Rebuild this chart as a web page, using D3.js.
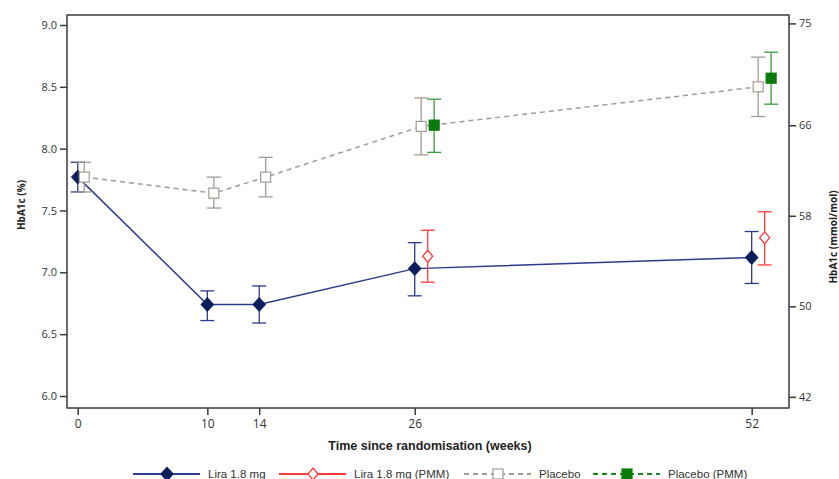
<!DOCTYPE html>
<html>
<head>
<meta charset="utf-8">
<script src="https://cdn.jsdelivr.net/npm/d3@7"></script>
<style>
  body { margin: 0; background: #fff; }
  .tick text { font-family: "Open Sans", "DejaVu Sans", sans-serif; font-size: 11px; fill: #333; }
  .narrow { font-family: "Liberation Sans Narrow", "Arial Narrow", "Liberation Sans", sans-serif; }
</style>
</head>
<body>
<svg id="chart" width="839" height="479"></svg>
<script>
"use strict";

// weeks shown on the x axis
const weekTicks = [0, 10, 14, 26, 52]
const leftTicks = [6.0, 6.5, 7.0, 7.5, 8.0, 8.5, 9.0]
const rightTicks = [42, 50, 58, 66, 75]

// Lira 1.8 mg (observed)
const liraWeeks = [0, 10, 14, 26, 52]
const liraMean = [7.77, 6.74, 6.74, 7.03, 7.12]
const liraLow = [7.65, 6.61, 6.59, 6.81, 6.91]
const liraHigh = [7.89, 6.85, 6.89, 7.24, 7.33]

// Placebo (observed), drawn half a week to the right
const placWeeks = [0.5, 10.5, 14.5, 26.5, 52.5]
const placMean = [7.77, 7.64, 7.77, 8.18, 8.50]
const placLow = [7.65, 7.52, 7.61, 7.95, 8.26]
const placHigh = [7.89, 7.77, 7.93, 8.41, 8.74]

// Lira 1.8 mg (PMM)
const liraPmmWeeks = [27, 53]
const liraPmmMean = [7.13, 7.28]
const liraPmmLow = [6.92, 7.06]
const liraPmmHigh = [7.34, 7.49]

// Placebo (PMM)
const placPmmWeeks = [27.5, 53.5]
const placPmmMean = [8.19, 8.57]
const placPmmLow = [7.97, 8.36]
const placPmmHigh = [8.40, 8.78]

const navy = "#0b1e5b"
const navyLine = "#2c3b8c"
const red = "#ff3b3b"
const grey = "#a39a92"
const green = "#1d8a1d"

const svg = d3.select("#chart")

const x = d3.scaleLinear().domain([-0.83, 54.88]).range([67, 789])
const y = d3.scaleLinear().domain([6.0, 9.0]).range([396, 25])
// IFCC conversion: mmol/mol = 10.929 * % - 23.5
const toMmol = v => 10.929 * v - 23.5
const y2 = d3.scaleLinear().domain([toMmol(6.0), toMmol(9.0)]).range([396, 25])

const frameTop = 15, frameBottom = 408

// frame
svg.append("rect")
    .attr("x", x.range()[0]).attr("y", frameTop)
    .attr("width", x.range()[1] - x.range()[0]).attr("height", frameBottom - frameTop)
    .attr("fill", "none").attr("stroke", "#3a3a3a").attr("stroke-width", 1.5)

function styleAxis(g) {
  g.select(".domain").remove()
  g.selectAll(".tick line").attr("stroke", "#3a3a3a").attr("stroke-width", 1.5)
}

svg.append("g")
    .attr("transform", `translate(${x.range()[0]},0)`)
    .call(d3.axisLeft(y).tickValues(leftTicks).tickFormat(d3.format(".1f")).tickSize(7).tickPadding(3))
    .call(styleAxis)

svg.append("g")
    .attr("transform", `translate(${x.range()[1]},0)`)
    .call(d3.axisRight(y2).tickValues(rightTicks).tickFormat(d3.format("d")).tickSize(7).tickPadding(3))
    .call(styleAxis)

const xAxis = svg.append("g")
    .attr("transform", `translate(0,${frameBottom})`)
    .call(d3.axisBottom(x).tickValues(weekTicks).tickSize(7).tickPadding(4))
    .call(styleAxis)
xAxis.selectAll(".tick text").attr("class", "narrow").style("font-size", "12px").attr("fill", "#333")

// axis titles
svg.append("text")
    .attr("x", 430).attr("y", 450)
    .attr("text-anchor", "middle")
    .attr("class", "narrow")
    .style("font-size", "12.5px").style("font-weight", "bold").attr("fill", "#222")
    .text("Time since randomisation (weeks)")

svg.append("text")
    .attr("transform", "translate(25,205) rotate(-90)")
    .attr("text-anchor", "middle")
    .style("font-family", "'Open Sans', sans-serif")
    .style("font-size", "10px").style("font-weight", "bold").attr("fill", "#222")
    .text("HbA1c (%)")

svg.append("text")
    .attr("transform", "translate(837,237) rotate(-90)")
    .attr("text-anchor", "middle")
    .style("font-family", "'Open Sans', sans-serif")
    .style("font-size", "10px").style("font-weight", "bold").attr("fill", "#222")
    .text("HbA1c (mmol/mol)")

function zip(weeks, mean, low, high) {
  return weeks.map((w, i) => ({w: w, m: mean[i], lo: low[i], hi: high[i]}))
}

const series = [
  {name: "Lira 1.8 mg", data: zip(liraWeeks, liraMean, liraLow, liraHigh), color: navyLine, mark: "diamond", fill: navy, stroke: navy, line: true, dash: null},
  {name: "Lira 1.8 mg (PMM)", data: zip(liraPmmWeeks, liraPmmMean, liraPmmLow, liraPmmHigh), color: red, mark: "diamond", fill: "#fff", stroke: red, line: false, dash: null},
  {name: "Placebo", data: zip(placWeeks, placMean, placLow, placHigh), color: grey, mark: "square", fill: "#fff", stroke: grey, line: true, dash: "5,4"},
  {name: "Placebo (PMM)", data: zip(placPmmWeeks, placPmmMean, placPmmLow, placPmmHigh), color: green, mark: "square", fill: "#0a7a0a", stroke: "#0a7a0a", line: false, dash: "5,4"}
]

function drawMark(g, s, cx, cy) {
  if (s.mark === "diamond") {
    const hw = s.fill === "#fff" ? 5 : 6, hh = s.fill === "#fff" ? 6 : 6.5
    g.append("path")
        .attr("d", `M${cx},${cy - hh}L${cx + hw},${cy}L${cx},${cy + hh}L${cx - hw},${cy}Z`)
        .attr("fill", s.fill).attr("stroke", s.stroke).attr("stroke-width", 1.3)
  } else {
    const h = 5
    g.append("rect")
        .attr("x", cx - h).attr("y", cy - h).attr("width", 2 * h).attr("height", 2 * h)
        .attr("fill", s.fill).attr("stroke", s.stroke).attr("stroke-width", 1.2)
  }
}

const line = d3.line().x(d => x(d.w)).y(d => y(d.m))

series.forEach(s => {
  const g = svg.append("g")
  if (s.line) {
    g.append("path")
        .attr("d", line(s.data))
        .attr("fill", "none").attr("stroke", s.color).attr("stroke-width", 1.5)
        .attr("stroke-dasharray", s.dash)
  }
  const barColor = s.mark === "square" && s.fill !== "#fff" ? "#3c9c3c" : s.color
  s.data.forEach(d => {
    const cx = x(d.w)
    g.append("line")
        .attr("x1", cx).attr("x2", cx).attr("y1", y(d.hi)).attr("y2", y(d.lo))
        .attr("stroke", barColor).attr("stroke-width", 1.3)
    ;[d.hi, d.lo].forEach(v => {
      g.append("line")
          .attr("x1", cx - 7).attr("x2", cx + 7).attr("y1", y(v)).attr("y2", y(v))
          .attr("stroke", barColor).attr("stroke-width", 1.3)
    })
    drawMark(g, s, cx, y(d.m))
  })
})

// legend
const legendX = [133, 279, 464, 593]
const legendY = 474
series.forEach((s, i) => {
  const g = svg.append("g")
  const x0 = legendX[i]
  g.append("line")
      .attr("x1", x0).attr("x2", x0 + 67).attr("y1", legendY).attr("y2", legendY)
      .attr("stroke", s.color).attr("stroke-width", s.dash ? 1.8 : 2)
      .attr("stroke-dasharray", s.dash)
  drawMark(g, s, x0 + 34, legendY)
  g.append("text")
      .attr("x", x0 + 75).attr("y", legendY + 4)
      .attr("class", "narrow")
      .style("font-size", "11.5px").attr("fill", "#333")
      .text(s.name)
})
</script>
</body>
</html>
